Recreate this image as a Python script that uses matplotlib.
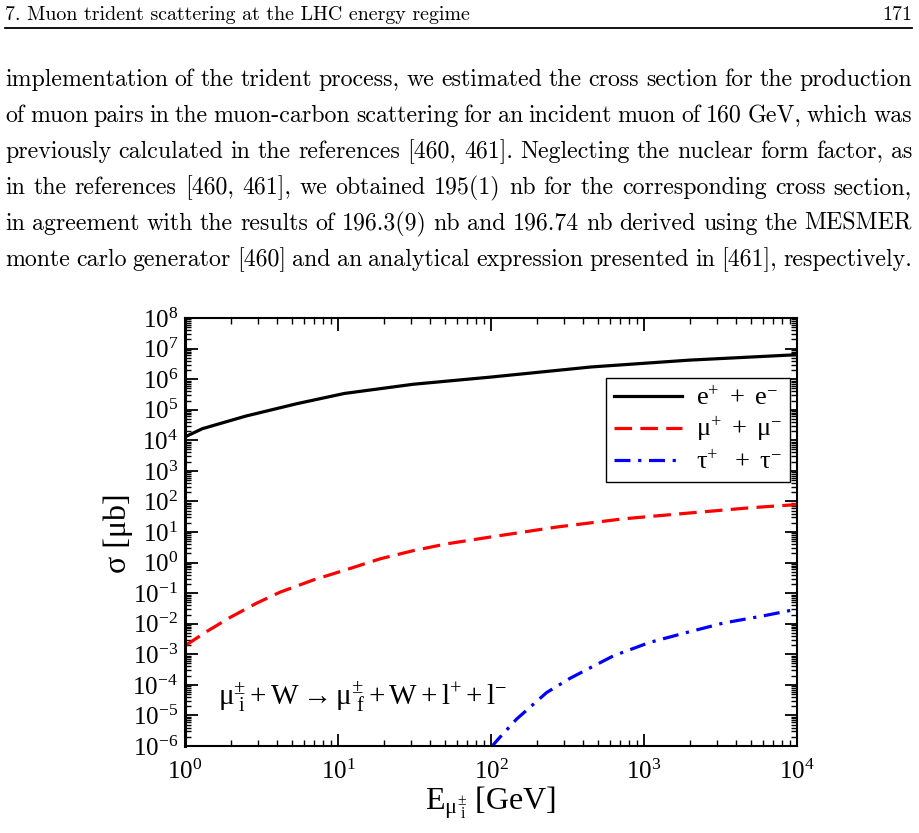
import numpy as np
import matplotlib
matplotlib.use('Agg')
import matplotlib.pyplot as plt
from matplotlib.ticker import LogLocator, FuncFormatter, NullFormatter
from matplotlib.lines import Line2D

plt.rcParams['mathtext.fontset'] = 'custom'
plt.rcParams['mathtext.rm'] = 'Liberation Serif'
plt.rcParams['mathtext.it'] = 'Liberation Serif:italic'
plt.rcParams['mathtext.bf'] = 'Liberation Serif:bold'
plt.rcParams['font.family'] = ['Liberation Serif', 'DejaVu Serif']

# ---------------- data ----------------
E_ee = [1, 1.3, 2.5, 5.4, 11, 31, 100, 450, 2000, 10000]
sig_ee = [1.29e4, 2.4e4, 6.2e4, 1.58e5, 3.4e5, 6.8e5, 1.17e6, 2.5e6, 4.2e6, 6.3e6]

E_mm = [1, 1.39, 1.97, 2.94, 4.17, 6.9, 11.4, 18.8, 31, 51.4, 100, 268, 733, 2000, 4930, 10000]
sig_mm = [1.9e-3, 5.6e-3, 1.6e-2, 4.7e-2, 0.107, 0.27, 0.59, 1.32, 2.45, 4.1, 6.9, 14.5, 27, 42, 62, 79]

E_tt = [100, 114, 147, 231, 330, 631, 1090, 1910, 3300, 6000, 10000]
sig_tt = [9.0e-7, 1.9e-6, 7.6e-6, 5.6e-5, 1.66e-4, 8.9e-4, 2.45e-3, 5.2e-3, 1.05e-2, 1.8e-2, 3.0e-2]

labels = [r'$\mathrm{e^{+}\ +\ e^{-}}$', r'$\mathrm{\mu^{+}\ +\ \mu^{-}}$', r'$\mathrm{\tau^{+}\ \ +\ \tau^{-}}$']
process_text = r'$\mathrm{\mu^{\pm}_{\ i} + W \rightarrow \mu^{\pm}_{\ f} + W + l^{+} + l^{-}}$'
xlabel = r'$\mathrm{E_{\mu^{\pm}_{\ i}}\ [GeV]}$'
ylabel = 'σ [μb]'

header_left = '7. Muon trident scattering at the LHC energy regime'
header_right = '171'
paragraph = [
    'implementation of the trident process, we estimated the cross section for the production',
    'of muon pairs in the muon-carbon scattering for an incident muon of 160 GeV, which was',
    'previously calculated in the references  [460, 461]. Neglecting the nuclear form factor, as',
    'in the references [460, 461], we obtained 195(1) nb for the corresponding cross section,',
    'in agreement with the results of 196.3(9) nb and 196.74 nb derived using the MESMER',
    'monte carlo generator [460] and an analytical expression presented in [461], respectively.',
]

W, H = 920, 833
fig = plt.figure(figsize=(W / 100, H / 100), dpi=100)
fig.patch.set_facecolor('white')

# ---------------- chart ----------------
ax = fig.add_axes([185 / W, 1 - 746 / H, 612 / W, 428 / H])
ax.plot(E_ee, sig_ee, color='black', lw=2.3, linestyle='-', label=labels[0])
ax.plot(E_mm, sig_mm, color='#ff0000', lw=2.3, linestyle=(0, (5.5, 2.6)), label=labels[1])
ax.plot(E_tt, sig_tt, color='#0000ff', lw=2.3, linestyle=(0, (5, 2.4, 1, 2.4)), label=labels[2])
ax.set_xscale('log')
ax.set_yscale('log')
ax.set_xlim(1, 1e4)
ax.set_ylim(1e-6, 1e8)

ax.xaxis.set_major_locator(LogLocator(base=10, numticks=50))
ax.yaxis.set_major_locator(LogLocator(base=10, numticks=50))
ax.xaxis.set_minor_locator(LogLocator(base=10, subs=np.arange(2, 10), numticks=50))
ax.yaxis.set_minor_locator(LogLocator(base=10, subs=np.arange(2, 10), numticks=50))
ax.xaxis.set_minor_formatter(NullFormatter())
ax.yaxis.set_minor_formatter(NullFormatter())
fmt = FuncFormatter(lambda v, p: r'$\mathrm{10^{%d}}$' % int(round(np.log10(v))))
ax.xaxis.set_major_formatter(fmt)
ax.yaxis.set_major_formatter(fmt)

ax.tick_params(which='both', direction='in', top=True, right=True, labelsize=18, color='black')
ax.tick_params(which='major', length=9, width=1.3)
ax.tick_params(which='minor', length=4.5, width=1.0)
ax.tick_params(axis='y', which='major', pad=5)
ax.tick_params(axis='x', which='major', pad=10)
for s in ax.spines.values():
    s.set_linewidth(1.5)
ax.spines['left'].set_linewidth(2.2)

leg = ax.legend(loc='upper right', bbox_to_anchor=((790 - 185) / 612, (746 - 378) / 428),
                borderaxespad=0, fontsize=19, handlelength=2.6, handletextpad=0.5,
                labelspacing=0.2, fancybox=False, framealpha=1, edgecolor='black',
                borderpad=0.3)
leg.get_frame().set_linewidth(1.0)

ax.text((218 - 185) / 612, (746 - 705) / 428, process_text, transform=ax.transAxes,
        fontsize=21, ha='left', va='baseline')

fig.text(118 / W, 1 - 533 / H, ylabel, rotation=90, ha='center', va='center', fontsize=23)
fig.text(490 / W, 1 - 803 / H, xlabel, ha='center', va='center', fontsize=23)

# ---------------- page text ----------------
page_fam = ['cmr10', 'DejaVu Serif']
renderer = fig.canvas.get_renderer()

def width_of(s, fs):
    t = fig.text(0, 0, s, fontsize=fs, family=page_fam)
    w = t.get_window_extent(renderer).width
    t.remove()
    return w

# header
hw = width_of(header_left, 10)
hfs = 10 * 465 / hw
fig.text(5 / W, 1 - 20 / H, header_left, fontsize=hfs, family=page_fam, ha='left', va='baseline')
fig.text(912 / W, 1 - 20 / H, header_right, fontsize=hfs, family=page_fam, ha='right', va='baseline')
fig.add_artist(Line2D([5 / W, 912 / W], [1 - 28 / H, 1 - 28 / H], transform=fig.transFigure,
                      color='black', lw=1.3))

# paragraph (justified)
nat = [width_of(line, 10) for line in paragraph]
pfs = 10 * 907 / max(nat) * 1.04
x0, x1 = 5, 912
for i, line in enumerate(paragraph):
    y = 86 + 36 * i
    words = line.split()
    texts = [fig.text(0, 1 - y / H, w, fontsize=pfs, family=page_fam, ha='left', va='baseline')
             for w in words]
    widths = [t.get_window_extent(renderer).width for t in texts]
    gap = (x1 - x0 - sum(widths)) / (len(words) - 1)
    x = x0
    for t, wd in zip(texts, widths):
        t.set_x(x / W)
        x += wd + gap

fig.savefig('out.png', dpi=100)
